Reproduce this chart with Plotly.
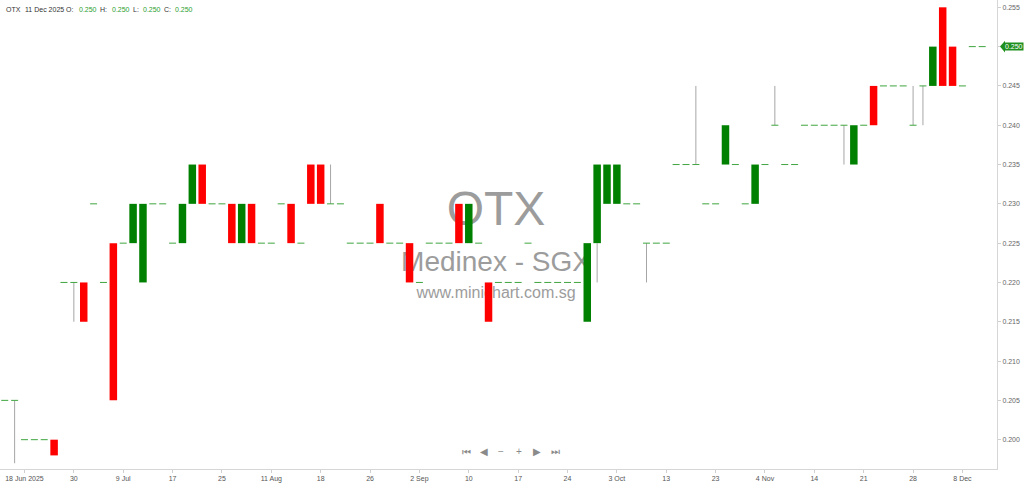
import plotly.graph_objects as go

# One slot per session shown on the chart, left to right (prices in SGD)
opens = [
	.205, .205, .200, .200, .200, .200, .220, .220, .220, .230,
	.220, .225, .225, .225, .220, .230, .230, .225, .225, .230,
	.235, .230, .230, .230, .225, .230, .225, .225, .230, .230,
	.225, .235, .235, .230, .230, .225, .225, .225, .230, .225,
	.225, .225, .220, .225, .225, .225, .230, .225, .225, .220,
	.220, .220, .220, .225, .220, .220, .220, .220, .220, .215,
	.225, .230, .230, .230, .230, .225, .225, .225, .235, .235,
	.235, .230, .230, .235, .235, .230, .230, .235, .240, .235,
	.235, .240, .240, .240, .240, .240, .235, .240, .245, .245,
	.245, .245, .240, .245, .245, .255, .250, .245, .250, .250,
]
highs = [
	.205, .205, .200, .200, .200, .200, .220, .220, .220, .230,
	.220, .225, .225, .230, .230, .230, .230, .225, .230, .235,
	.235, .230, .230, .230, .230, .230, .225, .225, .230, .230,
	.225, .235, .235, .235, .230, .225, .225, .225, .230, .225,
	.225, .225, .220, .225, .225, .225, .230, .230, .225, .220,
	.220, .220, .220, .225, .220, .220, .220, .220, .220, .225,
	.235, .235, .235, .230, .230, .225, .225, .225, .235, .235,
	.245, .230, .230, .240, .235, .230, .235, .235, .245, .235,
	.235, .240, .240, .240, .240, .240, .240, .240, .245, .245,
	.245, .245, .245, .245, .250, .255, .250, .245, .250, .250,
]
lows = [
	.205, .197, .200, .200, .200, .198, .220, .215, .215, .230,
	.220, .205, .225, .225, .220, .230, .230, .225, .225, .230,
	.230, .230, .230, .225, .225, .225, .225, .225, .230, .225,
	.225, .230, .230, .230, .230, .225, .225, .225, .225, .225,
	.225, .220, .220, .225, .225, .225, .225, .225, .225, .215,
	.220, .220, .220, .225, .220, .220, .220, .220, .220, .215,
	.220, .230, .230, .230, .230, .220, .225, .225, .235, .235,
	.235, .230, .230, .235, .235, .230, .230, .235, .240, .235,
	.235, .240, .240, .240, .240, .235, .235, .240, .240, .245,
	.245, .245, .240, .240, .245, .245, .245, .245, .250, .250,
]
closes = [
	.205, .205, .200, .200, .200, .198, .220, .220, .215, .230,
	.220, .205, .225, .230, .230, .230, .230, .225, .230, .235,
	.230, .230, .230, .225, .230, .225, .225, .225, .230, .225,
	.225, .230, .230, .230, .230, .225, .225, .225, .225, .225,
	.225, .220, .220, .225, .225, .225, .225, .230, .225, .215,
	.220, .220, .220, .225, .220, .220, .220, .220, .220, .225,
	.235, .235, .235, .230, .230, .225, .225, .225, .235, .235,
	.235, .230, .230, .240, .235, .230, .235, .235, .240, .235,
	.235, .240, .240, .240, .240, .240, .240, .240, .240, .245,
	.245, .245, .240, .245, .250, .245, .245, .245, .250, .250,
]

# x axis labels sit on every fifth slot
tick_slots = [2, 7, 12, 17, 22, 27, 32, 37, 42, 47, 52, 57, 62, 67, 72, 77, 82, 87, 92, 97]
tick_labels = ['18 Jun 2025', '30', '9 Jul', '17', '25', '11 Aug', '18', '26', '2 Sep', '10',
	'17', '24', '3 Oct', '13', '23', '4 Nov', '14', '21', '28', '8 Dec']
price_ticks = [.200, .205, .210, .215, .220, .225, .230, .235, .240, .245, .250, .255]

ticker = 'OTX'
company = 'Medinex - SGX'
site = 'www.minichart.com.sg'
last_date = '11 Dec 2025'
last_ohlc = [.250, .250, .250, .250]

UP = '#008000'
DOWN = '#ff0000'
FLAT = '#3fa53f'
WICK = '#a6a6a6'
PLOT_W = 997
PLOT_H = 469

def build_figure():
	slots = list(range(len(closes)))
	last = closes[-1]
	fig = go.Figure()

	# candle bodies
	bx, bh, bb, bc = [], [], [], []
	for i in slots:
		if opens[i] != closes[i]:
			bx.append(i)
			bb.append(min(opens[i], closes[i]))
			bh.append(abs(closes[i]-opens[i]))
			bc.append(UP if closes[i] > opens[i] else DOWN)
	fig.add_trace(go.Bar(
		x = bx, y = bh, base = bb, width = .76,
		marker = dict(color=bc, line=dict(width=0)),
		hoverinfo = 'skip',
	))

	# wicks, only the part sticking out of the body
	wx, wy = [], []
	for i in slots:
		top = max(opens[i], closes[i])
		bot = min(opens[i], closes[i])
		if highs[i] > top:
			wx += [i, i, None]
			wy += [top, highs[i], None]
		if lows[i] < bot:
			wx += [i, i, None]
			wy += [lows[i], bot, None]
	fig.add_trace(go.Scatter(
		x = wx, y = wy, mode = 'lines',
		line = dict(color=WICK, width=1),
		hoverinfo = 'skip',
	))

	# unchanged sessions drawn as short dashes
	fx = [i for i in slots if opens[i] == closes[i]]
	fig.add_trace(go.Scatter(
		x = fx, y = [closes[i] for i in fx], mode = 'markers',
		marker = dict(symbol='line-ew', size=5, line=dict(color=FLAT, width=1)),
		hoverinfo = 'skip',
	))

	fig.update_layout(
		width = 1024, height = 484,
		margin = dict(l=0, r=1024-PLOT_W, t=0, b=484-PLOT_H),
		paper_bgcolor = 'white', plot_bgcolor = 'white',
		showlegend = False,
		font = dict(family='Liberation Sans, Arial, sans-serif'),
		barmode = 'overlay',
	)
	fig.update_xaxes(
		range = [-0.48, len(closes)+0.5],
		tickvals = tick_slots, ticktext = tick_labels,
		ticks = 'outside', ticklen = 3, tickcolor = '#cfcfcf',
		showline = True, linecolor = '#d6d6d6', linewidth = 1,
		showgrid = False, zeroline = False,
		tickfont = dict(size=7, color='#555555'),
	)
	# the last price tag covers its own tick label
	fig.update_yaxes(
		side = 'right',
		range = [0.19627, 0.25593],
		tickvals = price_ticks,
		ticktext = ['' if abs(p-last) < 1e-9 else f'{p:.3f}' for p in price_ticks],
		ticks = 'outside', ticklen = 3, tickcolor = '#cfcfcf',
		showline = True, linecolor = '#d6d6d6', linewidth = 1,
		showgrid = False, zeroline = False,
		tickfont = dict(size=7, color='#666666'),
	)

	# watermark, kept behind the candles
	for text, size, ypix in [(ticker, 48, 203), (company, 28, 258), (site, 16, 290)]:
		yc = 1 - ypix/PLOT_H
		fig.add_shape(
			type = 'rect', xref = 'paper', yref = 'paper',
			x0 = 0.3, x1 = 0.695, y0 = yc-0.04, y1 = yc+0.04,
			line = dict(width=0), fillcolor = 'rgba(0,0,0,0)', layer = 'below',
			label = dict(text=text, textposition='middle center',
				font=dict(size=size, color='#9c9c9c', family='Liberation Sans, Arial, sans-serif')),
		)

	# header with the last session
	header = [
		(4, ticker, '#333333'), (23, last_date, '#333333'),
		(64, 'O:', '#333333'), (77, f'{last_ohlc[0]:.3f}', '#2e9e2e'),
		(98, 'H:', '#333333'), (110, f'{last_ohlc[1]:.3f}', '#2e9e2e'),
		(131, 'L:', '#333333'), (141, f'{last_ohlc[2]:.3f}', '#2e9e2e'),
		(162, 'C:', '#333333'), (173, f'{last_ohlc[3]:.3f}', '#2e9e2e'),
	]
	for xpix, text, color in header:
		fig.add_annotation(
			x = xpix/PLOT_W, y = 1 - 10/PLOT_H, xref = 'paper', yref = 'paper',
			xanchor = 'left', yanchor = 'middle', showarrow = False,
			text = text, font = dict(size=7, color=color),
		)

	# navigation buttons
	for xpix, text in [(466, '⏮'), (484, '◀'), (501, '−'), (519, '+'), (537, '▶'), (555, '⏭')]:
		fig.add_annotation(
			x = xpix/PLOT_W, y = 1 - 459/PLOT_H, xref = 'paper', yref = 'paper',
			showarrow = False, text = text, font = dict(size=10, color='#8a8a8a'),
		)

	# last price tag on the price axis
	half = 0.00075
	fig.add_shape(
		type = 'path', xref = 'paper', yref = 'y', layer = 'above',
		path = f'M {1000/PLOT_W},{last} L {1005/PLOT_W},{last+half} L {1005/PLOT_W},{last-half} Z',
		fillcolor = '#1f8f1f', line = dict(width=0),
	)
	fig.add_annotation(
		x = 1, y = last, xref = 'paper', yref = 'y',
		xanchor = 'left', yanchor = 'middle', xshift = 7, showarrow = False,
		text = f'{last:.3f}', font = dict(size=7, color='white'),
		bgcolor = '#1f8f1f', borderpad = 0,
	)
	return fig

def main():
	fig = build_figure()
	fig.write_html('out.html', config={'displayModeBar': False},
		post_script="document.body.style.margin='0';")

if __name__ == '__main__':
	main()
